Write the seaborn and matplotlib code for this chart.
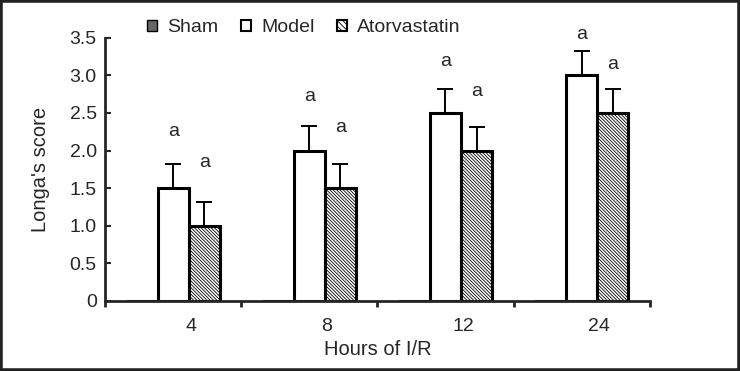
import matplotlib
matplotlib.use("Agg")
import matplotlib.pyplot as plt
from matplotlib.patches import Patch, Rectangle
import seaborn as sns
import pandas as pd

# data
hours = ["4", "8", "12", "24"]
groups = ["Sham", "Model", "Atorvastatin"]
sham = [0, 0, 0, 0]
model = [1.5, 2.0, 2.5, 3.0]
ator = [1.0, 1.5, 2.0, 2.5]
model_err = [0.32, 0.33, 0.32, 0.33]
ator_err = [0.32, 0.32, 0.32, 0.32]
sig = ["a", "a", "a", "a"]
model_sig_y = [2.26, 2.72, 3.18, 3.55]
ator_sig_y = [1.84, 2.31, 2.78, 3.15]
yticks = [0, 0.5, 1.0, 1.5, 2.0, 2.5, 3.0, 3.5]
ytick_labels = ["0", "0.5", "1.0", "1.5", "2.0", "2.5", "3.0", "3.5"]

df = pd.DataFrame({
    "Hours": hours * 3,
    "Group": [g for g in groups for _ in hours],
    "Score": sham + model + ator,
})

sns.set_style("ticks")
plt.rcParams["font.family"] = ["Liberation Sans", "DejaVu Sans"]
plt.rcParams["hatch.linewidth"] = 0.6

fig = plt.figure(figsize=(7.4, 3.71), dpi=100)
ax = fig.add_axes([0.142, 0.189, 0.736, 0.709])

sns.barplot(data=df, x="Hours", y="Score", hue="Group", order=hours, hue_order=groups,
            palette={"Sham": "#666666", "Model": "white", "Atorvastatin": "white"},
            edgecolor="black", linewidth=2.2, width=0.684, errorbar=None,
            legend=False, ax=ax)

for bar in ax.containers[2]:
    bar.set_hatch("\\" * 10)

# upward error bars + letters
for cont, vals, err, sy in [(ax.containers[1], model, model_err, model_sig_y),
                            (ax.containers[2], ator, ator_err, ator_sig_y)]:
    xs = [b.get_x() + b.get_width() / 2 for b in cont]
    ax.errorbar(xs, vals, yerr=[[0] * len(vals), err], fmt="none", ecolor="black",
                elinewidth=1.4, capsize=5.5, capthick=1.4, zorder=1)
    for x, y, s in zip(xs, sy, sig):
        ax.text(x, y, s, ha="center", va="center", fontsize=14, clip_on=False)

ax.set_xlim(-0.5, 3.5)
ax.set_ylim(0, 3.5)
ax.set_yticks(yticks)
ax.set_yticklabels(ytick_labels, fontsize=14)
ax.tick_params(axis="y", direction="in", length=4, width=1.5, pad=6)

# tick marks between groups, labels under the bars
ax.set_xticks([-0.5, 0.5, 1.5, 2.5, 3.5])
ax.set_xticklabels([])
ax.tick_params(axis="x", which="major", direction="out", length=4.5, width=2)
ax.set_xticks([i + 0.13 for i in range(len(hours))], minor=True)
ax.set_xticklabels(hours, minor=True, fontsize=14)
ax.tick_params(axis="x", which="minor", length=0, pad=12)

ax.set_xlabel("Hours of I/R", fontsize=14.5, labelpad=4)
ax.set_ylabel("Longa's score", fontsize=14.5, labelpad=14)
for sp in ["left", "bottom"]:
    ax.spines[sp].set_linewidth(2)
sns.despine(ax=ax)

handles = [Patch(facecolor="#666666", edgecolor="black", linewidth=1),
           Patch(facecolor="white", edgecolor="black", linewidth=1.5),
           Patch(facecolor="white", edgecolor="black", linewidth=1.5, hatch="\\" * 6)]
fig.legend(handles, groups, loc="center left", bbox_to_anchor=(0.185, 0.925), ncol=3,
           frameon=False, fontsize=14, handlelength=0.55, handleheight=0.55,
           handletextpad=0.5, columnspacing=1.15, borderpad=0)

fig.patches.append(Rectangle((0, 0), 1, 1, transform=fig.transFigure, fill=False,
                             edgecolor="#222222", linewidth=4, zorder=10))

fig.savefig("out.png", dpi=100)
